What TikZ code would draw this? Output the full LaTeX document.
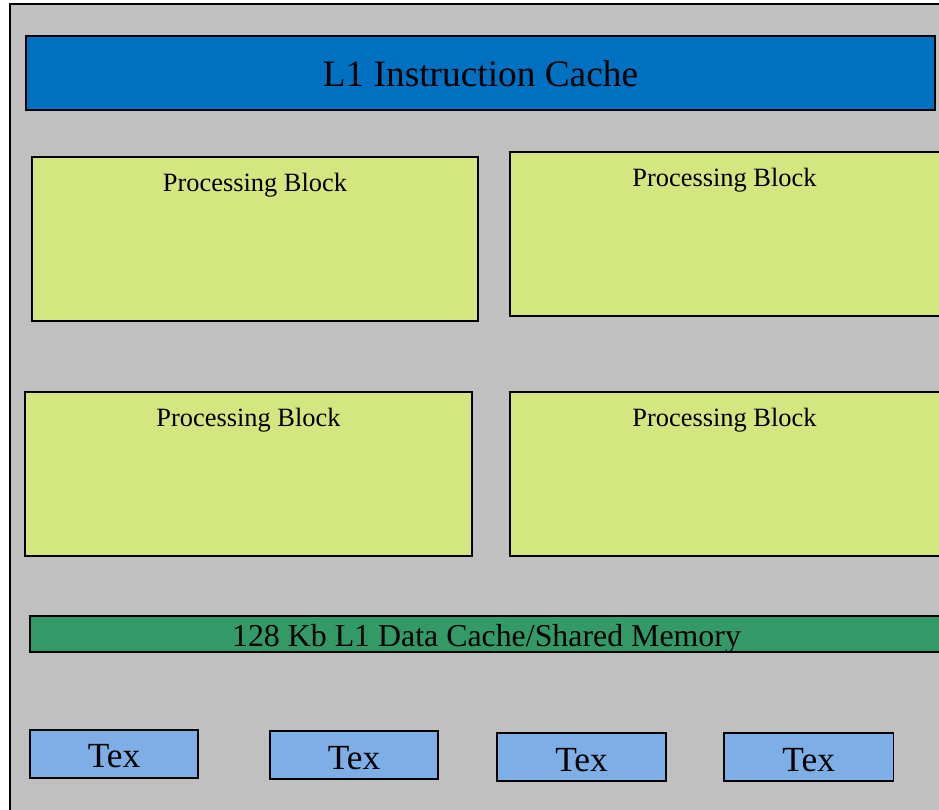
\documentclass[tikz,border=0pt]{standalone}
\usepackage{fontspec}
\setmainfont{Liberation Serif}
\definecolor{smgray}{HTML}{C0C0C0}
\definecolor{icblue}{HTML}{0070C0}
\definecolor{pbgreen}{HTML}{D4E680}
\definecolor{dcgreen}{HTML}{339966}
\definecolor{texblue}{HTML}{7EAEE6}
\begin{document}
\begin{tikzpicture}[x=0.75pt,y=-0.75pt,
  box/.style={draw=black, line width=1.1pt, inner sep=0pt},
  lbl/.style={inner sep=0pt, anchor=base, text=black}]
\useasboundingbox (0,0) rectangle (939,810);
\clip (0,0) rectangle (939,810);
% outer SM frame
\path[box, fill=smgray] (10,4) rectangle (950,820);
% L1 instruction cache
\draw[box, fill=icblue] (26,36) rectangle (935,110);
\node[lbl, font=\fontsize{28}{30}\selectfont] (ic) at (480.5,86.7) {L1 Instruction Cache};
% processing blocks
\draw[box, fill=pbgreen] (32,157) rectangle (478,321);
\node[lbl, font=\fontsize{19.8}{22}\selectfont] (pb1) at (255,191.7) {Processing Block};
\draw[box, fill=pbgreen] (510,152) rectangle (945,316);
\node[lbl, font=\fontsize{19.8}{22}\selectfont] (pb2) at (724.5,186.7) {Processing Block};
\draw[box, fill=pbgreen] (25,392) rectangle (472,556);
\node[lbl, font=\fontsize{19.8}{22}\selectfont] (pb3) at (248.5,426.7) {Processing Block};
\draw[box, fill=pbgreen] (510,392) rectangle (945,556);
\node[lbl, font=\fontsize{19.8}{22}\selectfont] (pb4) at (724.5,426) {Processing Block};
% data cache
\draw[box, fill=dcgreen] (30,616) rectangle (945,652);
\node[lbl, font=\fontsize{23.9}{26}\selectfont] (dc) at (486.5,646) {128 Kb L1 Data Cache/Shared Memory};
% texture units
\draw[box, fill=texblue] (30,730) rectangle (198,778);
\node[lbl, font=\fontsize{26.5}{28}\selectfont] (t1) at (114,767.7) {Tex};
\draw[box, fill=texblue] (270,731) rectangle (438,779);
\node[lbl, font=\fontsize{26.5}{28}\selectfont] (t2) at (354,769.3) {Tex};
\draw[box, fill=texblue] (497,733) rectangle (666,781);
\node[lbl, font=\fontsize{26.5}{28}\selectfont] (t3) at (581.5,771) {Tex};
\draw[box, fill=texblue] (724,733) rectangle (893.5,781);
\node[lbl, font=\fontsize{26.5}{28}\selectfont] (t4) at (808.7,771) {Tex};
\end{tikzpicture}
\end{document}
